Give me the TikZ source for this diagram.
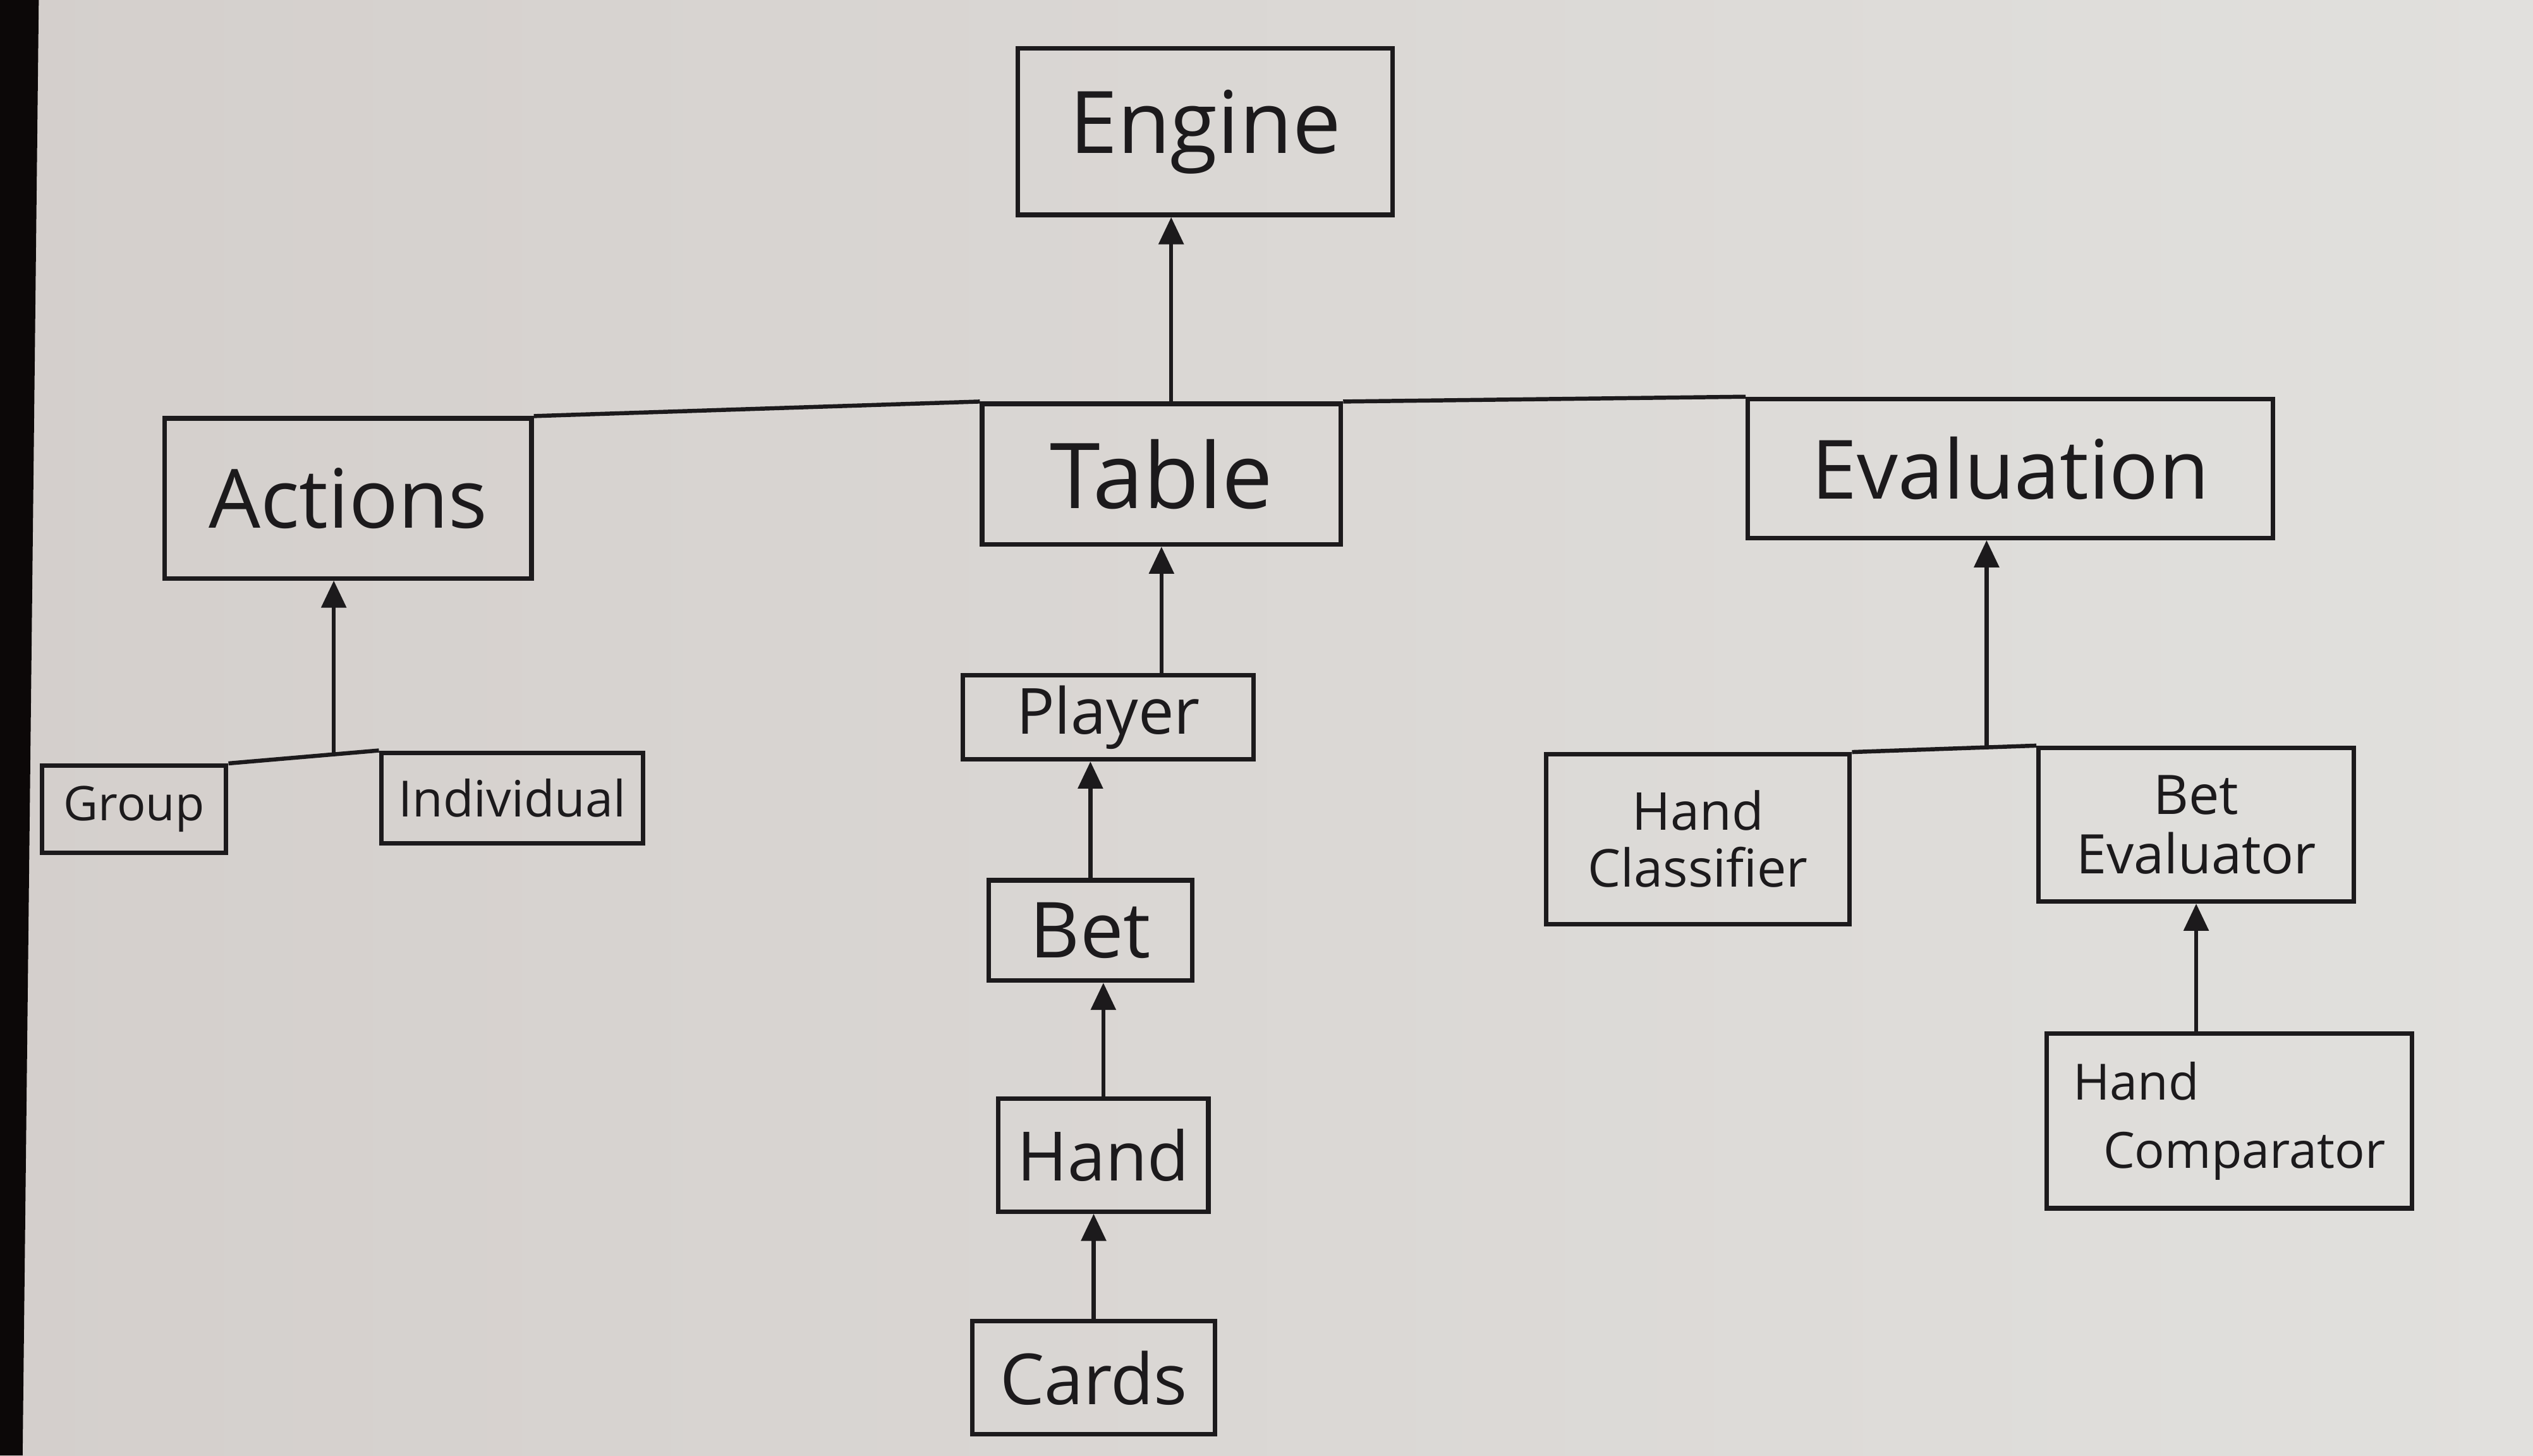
\documentclass[tikz,border=0pt]{standalone}
\usepackage{fontspec}
\setmainfont{Open Sans}
\usetikzlibrary{arrows.meta,calc}
\definecolor{ink}{HTML}{1C1A1C}
\definecolor{paperL}{HTML}{D4CFCC}
\definecolor{paperM}{HTML}{E6E5E2}
\definecolor{paperR}{HTML}{E1E0DD}
\definecolor{edge}{HTML}{0C0808}
\tikzset{
  box/.style={draw=ink, line width=2pt, inner sep=2pt, text=ink, align=center},
  arr/.style={draw=ink, line width=1.8pt, -{Triangle[length=0.42cm,width=0.38cm]}},
  bus/.style={draw=ink, line width=1.8pt},
}
\newcommand{\fs}[1]{\fontsize{#1}{#1}\selectfont}
\begin{document}
\begin{tikzpicture}[x=0.025cm,y=-0.025cm]
\useasboundingbox (0,0) rectangle (1568,901);
\shade[left color=paperL, middle color=paperM, right color=paperR] (0,0) rectangle (1568,901);
\fill[edge] (0,0) -- (24,0) -- (14,901) -- (0,901) -- cycle;

% top
\node[box, minimum width=5.8cm, minimum height=2.575cm, font=\fs{38}] (Engine) at (746,81.5) {Engine};
% second row
\node[box, minimum width=5.675cm, minimum height=2.475cm, font=\fs{36}] (Actions) at (215.5,308.5) {Actions};
\node[box, minimum width=5.55cm, minimum height=2.175cm, font=\fs{40}] (Table) at (719,293.5) {Table};
\node[box, minimum width=8.125cm, minimum height=2.15cm, font=\fs{36}] (Eval) at (1244.5,290) {Evaluation};
% actions children
\node[box, minimum width=2.85cm, minimum height=1.35cm, font=\fs{21}] (Group) at (83,501) {Group};
\node[box, minimum width=4.05cm, minimum height=1.4cm, font=\fs{22}] (Indiv) at (317,494) {Individual};
% table chain
\node[box, minimum width=4.5cm, minimum height=1.3cm, font=\fs{28}] (Player) at (686,444) {Player};
\node[box, minimum width=3.15cm, minimum height=1.55cm, font=\fs{34}] (Bet) at (675,576) {Bet};
\node[box, minimum width=3.25cm, minimum height=1.75cm, font=\fs{30}] (Hand) at (683,715) {Hand};
\node[box, minimum width=3.75cm, minimum height=1.75cm, font=\fs{31}] (Cards) at (677,853) {Cards};
% evaluation children
\node[box, minimum width=4.7cm, minimum height=2.625cm, font=\fs{23}] (HClass) at (1051,519.5) {Hand\\[2pt]Classifier};
\node[box, minimum width=4.875cm, minimum height=2.375cm, font=\fs{24}] (BEval) at (1359.5,510.5) {Bet\\[2pt]Evaluator};
\node[box, minimum width=5.65cm, minimum height=2.7cm, font=\fs{22}, align=left] (HComp) at (1380,694) {Hand\\[8pt]\hspace*{0.6em}Comparator};

% bus lines
\draw[bus] (Actions.north east) -- (Table.north west);
\draw[bus] (Table.north east) -- (Eval.north west);
\coordinate (tb) at ($(Table.north)+(6,0)$);
\draw[arr] (tb) -- (tb |- Engine.south);

\draw[bus] (Group.north east) -- (Indiv.north west);
\coordinate (ab) at ($(Group.north east)!0.7!(Indiv.north west)$);
\draw[arr] (ab) -- (ab |- Actions.south);

\draw[bus] (HClass.north east) -- (BEval.north west);
\coordinate (eb) at ($(HClass.north east)!0.73!(BEval.north west)$);
\draw[arr] (eb) -- (eb |- Eval.south);

\draw[arr] (Table.south |- Player.north) -- (Table.south);
\draw[arr] (Bet.north) -- (Bet.north |- Player.south);
\draw[arr] (Hand.north) -- (Hand.north |- Bet.south);
\draw[arr] (Cards.north) -- (Cards.north |- Hand.south);
\draw[arr] (BEval.south |- HComp.north) -- (BEval.south);
\end{tikzpicture}
\end{document}
